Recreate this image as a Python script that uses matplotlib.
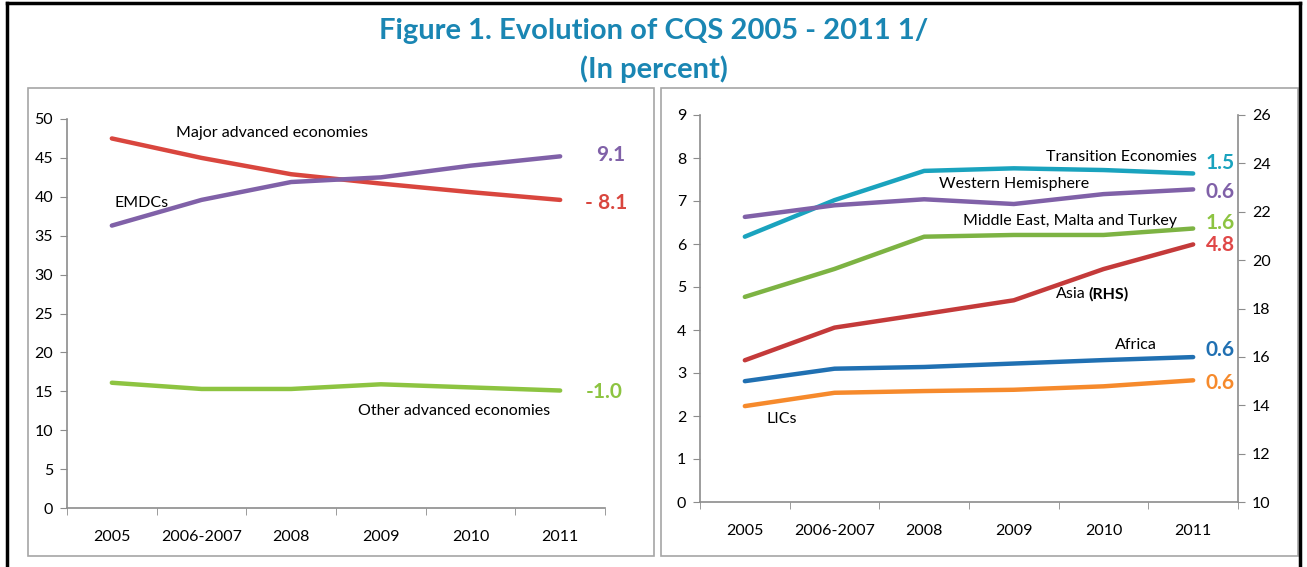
import matplotlib.pyplot as plt
from matplotlib.patches import Rectangle
from matplotlib.lines import Line2D

plt.rcParams['font.family'] = ['Lato', 'DejaVu Sans']

years = ['2005', '2006-2007', '2008', '2009', '2010', '2011']

# left panel
major_adv = [47.5, 45.0, 42.9, 41.7, 40.6, 39.6]
emdcs = [36.3, 39.6, 41.9, 42.5, 44.0, 45.2]
other_adv = [16.1, 15.3, 15.3, 15.9, 15.5, 15.1]

# right panel (Asia on right-hand scale)
transition = [6.17, 7.02, 7.70, 7.76, 7.72, 7.64]
west_hem = [6.63, 6.90, 7.04, 6.93, 7.16, 7.27]
mid_east = [4.77, 5.42, 6.17, 6.21, 6.21, 6.36]
africa = [2.81, 3.10, 3.14, 3.22, 3.30, 3.37]
lics = [2.23, 2.54, 2.58, 2.61, 2.69, 2.83]
asia = [15.86, 17.21, 17.77, 18.34, 19.63, 20.65]

RED = '#D9463E'
PURPLE = '#8061A8'
GREEN = '#8DC441'
TEAL = '#1AA3BE'
BLUE = '#2070B2'
ORANGE = '#F68A2C'
RED2 = '#C43A3A'
GREEN2 = '#7DB343'
GRAY = '#8C8C8C'
TITLE = '#1A86B3'

fig = plt.figure(figsize=(13.07, 5.67), dpi=100)
W, H = 1307, 567


def fx(px):
    return px / W


def fy(py):
    return 1 - py / H


# outer black frame and panel frames
for xs, ys in [([7, 7], [3, 567]), ([7, 1300], [3, 3]), ([1300, 1300], [3, 567])]:
    fig.add_artist(Line2D([fx(x) for x in xs], [fy(y) for y in ys], color='black', lw=2.5))
for x0, x1 in [(28, 654), (661, 1298)]:
    fig.add_artist(Rectangle((fx(x0), fy(556)), fx(x1) - fx(x0), fy(88) - fy(556),
                             fill=False, ec='#A6A6A6', lw=1.2))

fig.text(0.5, fy(31), 'Figure 1. Evolution of CQS 2005 - 2011 1/', ha='center', va='center',
         fontsize=21, fontweight='bold', color=TITLE)
fig.text(0.5, fy(69), '(In percent)', ha='center', va='center',
         fontsize=21, fontweight='bold', color=TITLE)

x = list(range(len(years)))
LAB = 11.5
VAL = 15


def style_axis(ax):
    ax.set_xlim(-0.5, 5.5)
    ax.set_xticks(x)
    ax.set_xticklabels(years)
    ax.set_xticks([i - 0.5 for i in range(7)], minor=True)
    ax.tick_params(axis='x', which='major', length=0, pad=16, labelsize=LAB)
    ax.tick_params(axis='x', which='minor', length=5, color=GRAY, direction='out')
    ax.tick_params(axis='y', length=5, color=GRAY, labelsize=LAB, pad=5)
    for s in ['top', 'right']:
        ax.spines[s].set_visible(False)
    for s in ['left', 'bottom']:
        ax.spines[s].set_color(GRAY)
        ax.spines[s].set_linewidth(1.2)


# left panel
ax1 = fig.add_axes([fx(67), fy(508), fx(605) - fx(67), fy(119) - fy(508)])
ax1.plot(x, major_adv, color=RED, lw=3.2, solid_capstyle='round')
ax1.plot(x, emdcs, color=PURPLE, lw=3.2, solid_capstyle='round')
ax1.plot(x, other_adv, color=GREEN, lw=3.2, solid_capstyle='round')
ax1.set_ylim(0, 50)
ax1.set_yticks(range(0, 51, 5))
style_axis(ax1)

ax1.text(1.79, 48.2, 'Major advanced economies', ha='center', va='center', fontsize=LAB)
ax1.text(0.33, 39.2, 'EMDCs', ha='center', va='center', fontsize=LAB)
ax1.text(3.82, 12.5, 'Other advanced economies', ha='center', va='center', fontsize=LAB)
ax1.text(5.40, 45.4, '9.1', ha='left', va='center', fontsize=VAL, fontweight='bold', color=PURPLE)
ax1.text(5.28, 39.2, '- 8.1', ha='left', va='center', fontsize=VAL, fontweight='bold', color=RED)
ax1.text(5.28, 14.9, '-1.0', ha='left', va='center', fontsize=VAL, fontweight='bold', color=GREEN)

# right panel
ax2 = fig.add_axes([fx(700), fy(502), fx(1238) - fx(700), fy(115) - fy(502)])
ax3 = ax2.twinx()
ax2.plot(x, transition, color=TEAL, lw=3.2, solid_capstyle='round')
ax2.plot(x, west_hem, color=PURPLE, lw=3.2, solid_capstyle='round')
ax2.plot(x, mid_east, color=GREEN2, lw=3.2, solid_capstyle='round')
ax2.plot(x, africa, color=BLUE, lw=3.2, solid_capstyle='round')
ax2.plot(x, lics, color=ORANGE, lw=3.2, solid_capstyle='round')
ax3.plot(x, asia, color=RED2, lw=3.2, solid_capstyle='round')
ax2.set_ylim(0, 9)
ax2.set_yticks(range(0, 10))
ax3.set_ylim(10, 26)
ax3.set_yticks(range(10, 27, 2))
style_axis(ax2)
ax3.set_xlim(-0.5, 5.5)
for s in ['top', 'left', 'bottom']:
    ax3.spines[s].set_visible(False)
ax3.spines['right'].set_color(GRAY)
ax3.spines['right'].set_linewidth(1.2)
ax3.tick_params(axis='y', length=5, color=GRAY, labelsize=LAB, pad=5)

ax2.text(4.20, 8.02, 'Transition Economies', ha='center', va='center', fontsize=LAB)
ax2.text(3.00, 7.40, 'Western Hemisphere', ha='center', va='center', fontsize=LAB)
ax2.text(3.63, 6.53, 'Middle East, Malta and Turkey', ha='center', va='center', fontsize=LAB)
ax2.text(3.80, 4.84, 'Asia', ha='right', va='center', fontsize=LAB)
ax2.text(3.83, 4.84, '(RHS)', ha='left', va='center', fontsize=LAB, fontweight='bold')
ax2.text(4.36, 3.65, 'Africa', ha='center', va='center', fontsize=LAB)
ax2.text(0.41, 1.93, 'LICs', ha='center', va='center', fontsize=LAB)
ax2.text(5.14, 7.88, '1.5', ha='left', va='center', fontsize=VAL, fontweight='bold', color=TEAL)
ax2.text(5.14, 7.21, '0.6', ha='left', va='center', fontsize=VAL, fontweight='bold', color=PURPLE)
ax2.text(5.14, 6.49, '1.6', ha='left', va='center', fontsize=VAL, fontweight='bold', color=GREEN)
ax2.text(5.14, 5.98, '4.8', ha='left', va='center', fontsize=VAL, fontweight='bold', color='#E04848')
ax2.text(5.14, 3.53, '0.6', ha='left', va='center', fontsize=VAL, fontweight='bold', color=BLUE)
ax2.text(5.14, 2.77, '0.6', ha='left', va='center', fontsize=VAL, fontweight='bold', color=ORANGE)

fig.savefig('out.png', dpi=100)
